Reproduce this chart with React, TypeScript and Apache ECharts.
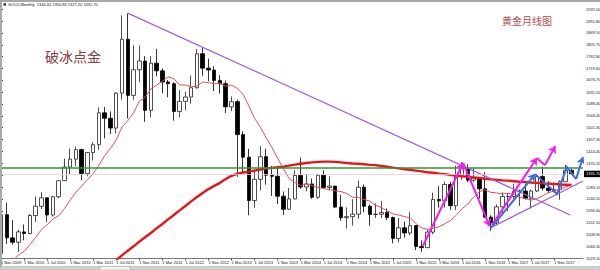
import React, { useEffect, useRef } from "react";
import * as echarts from "echarts";

const MONTHS = ["Jan", "Feb", "Mar", "Apr", "May", "Jun", "Jul", "Aug", "Sep", "Oct", "Nov", "Dec"];
// Monthly categories from Nov 2009, with two empty months of right margin
const categories: string[] = [];
for (let i = 0; i < 102; i++) {
  const m = (10 + i) % 12;
  const y = 2009 + Math.floor((10 + i) / 12);
  categories.push(`1 ${MONTHS[m]} ${y}`);
}

const opens = [1040, 1182, 1097, 1081, 1119, 1113, 1179, 1213, 1244, 1181, 1248, 1307, 1357, 1386, 1421, 1333, 1410, 1439, 1556, 1536,
  1500, 1628, 1826, 1620, 1714, 1746, 1565, 1738, 1710, 1669, 1663, 1561, 1598, 1614, 1648, 1773, 1720, 1713, 1675, 1663,
  1578, 1597, 1476, 1393, 1234, 1312, 1395, 1327, 1323, 1250, 1202, 1240, 1326, 1284, 1295, 1246, 1327, 1282, 1287, 1210,
  1171, 1175, 1184, 1283, 1213, 1183, 1184, 1190, 1172, 1095, 1134, 1115, 1142, 1065, 1061, 1118, 1238, 1233, 1293, 1215,
  1322, 1351, 1309, 1316, 1277, 1173, 1152, 1211, 1249, 1249, 1268, 1269, 1242, 1269, 1322, 1280, 1271, 1275, 1303, 1344.6];
const highs = [1195, 1227, 1162, 1127, 1146, 1185, 1249, 1265, 1245, 1251, 1307, 1388, 1425, 1432, 1424, 1412, 1448, 1576, 1577, 1561,
  1632, 1913, 1921, 1804, 1803, 1764, 1764, 1791, 1719, 1677, 1668, 1640, 1633, 1693, 1790, 1796, 1755, 1727, 1694, 1675,
  1616, 1605, 1488, 1424, 1348, 1434, 1424, 1361, 1361, 1267, 1280, 1345, 1392, 1331, 1315, 1332, 1345, 1323, 1288, 1255,
  1209, 1239, 1307, 1293, 1220, 1224, 1232, 1205, 1175, 1170, 1157, 1191, 1143, 1088, 1128, 1263, 1287, 1304, 1303, 1362,
  1375, 1367, 1353, 1318, 1338, 1180, 1220, 1264, 1262, 1296, 1274, 1296, 1274, 1326, 1358, 1306, 1300, 1308, 1366, 1350.8];
const lows = [1032, 1075, 1072, 1045, 1088, 1110, 1156, 1203, 1156, 1175, 1242, 1306, 1330, 1360, 1309, 1323, 1381, 1420, 1462, 1478,
  1480, 1605, 1535, 1604, 1668, 1523, 1540, 1690, 1628, 1613, 1527, 1540, 1565, 1590, 1645, 1692, 1672, 1636, 1627, 1555,
  1562, 1321, 1338, 1180, 1207, 1271, 1292, 1251, 1221, 1181, 1200, 1238, 1277, 1268, 1240, 1240, 1281, 1272, 1206, 1160,
  1131, 1142, 1167, 1191, 1142, 1170, 1169, 1162, 1077, 1080, 1098, 1107, 1052, 1046, 1060, 1110, 1208, 1208, 1200, 1199,
  1310, 1301, 1302, 1241, 1171, 1123, 1146, 1180, 1195, 1241, 1214, 1237, 1205, 1265, 1271, 1261, 1264, 1237, 1302, 1327.2];
const closes = [1182, 1097, 1081, 1119, 1113, 1179, 1213, 1244, 1181, 1248, 1307, 1357, 1386, 1421, 1333, 1410, 1439, 1556, 1536, 1500,
  1628, 1826, 1620, 1714, 1746, 1565, 1738, 1710, 1669, 1663, 1561, 1598, 1614, 1648, 1773, 1720, 1713, 1675, 1663, 1578,
  1597, 1476, 1393, 1234, 1312, 1395, 1327, 1323, 1250, 1202, 1240, 1326, 1284, 1295, 1246, 1327, 1282, 1287, 1210, 1171,
  1175, 1184, 1283, 1213, 1183, 1184, 1190, 1172, 1095, 1134, 1115, 1142, 1065, 1061, 1118, 1238, 1233, 1293, 1215, 1322,
  1351, 1309, 1316, 1277, 1173, 1152, 1211, 1249, 1249, 1268, 1269, 1242, 1269, 1322, 1280, 1271, 1275, 1303, 1345, 1331.7];

// thin red moving average
const maFast = [978, 994, 1010, 1034, 1047, 1072, 1098, 1127, 1145, 1166, 1178, 1204, 1235, 1265, 1287, 1310, 1333, 1364, 1399, 1425,
  1457, 1504, 1527, 1556, 1598, 1613, 1643, 1658, 1672, 1688, 1681, 1658, 1658, 1651, 1654, 1669, 1667, 1663, 1663, 1654,
  1658, 1646, 1624, 1582, 1536, 1504, 1465, 1430, 1389, 1351, 1315, 1300, 1289, 1295, 1289, 1282, 1278, 1274, 1270, 1267,
  1260, 1246, 1246, 1238, 1232, 1217, 1208, 1197, 1185, 1181, 1175, 1171, 1149, 1134, 1128, 1133, 1137, 1149, 1161, 1180,
  1204, 1221, 1246, 1267, 1273, 1264, 1262, 1258, 1261, 1256, 1247, 1241, 1236, 1240, 1251, 1263, 1269, 1275, 1284, 1291];
// thick red moving average
const maSlow = [null, null, null, null, null, null, null, null, null, null, null, null, null, null, null, null, null, null, null, null,
  1016, 1033, 1050, 1066, 1083, 1099, 1115, 1132, 1148, 1165, 1181, 1198, 1214, 1231, 1247, 1262, 1276, 1288, 1299, 1313,
  1325, 1332, 1337, 1340, 1344, 1348, 1352, 1354, 1356, 1358, 1362, 1366, 1369, 1372, 1374, 1376, 1377, 1377, 1376, 1374,
  1372, 1370, 1369, 1367, 1365, 1364, 1361, 1358, 1355, 1352, 1349, 1347, 1344, 1341, 1338, 1336, 1333, 1331, 1328, 1326,
  1323, 1321, 1319, 1317, 1314, 1312, 1310, 1308, 1307, 1305, 1303, 1302, 1300, 1299, 1297, 1296, 1295, 1293, 1292, 1291];

const priceTicks = [1023.1, 1066.3, 1108.9, 1152.1, 1196.0, 1240.2, 1283.1, 1326.7, 1370.2, 1414.4, 1457.3, 1501.3,
  1544.4, 1588.4, 1631.5, 1676.7, 1719.6, 1762.8, 1805.7, 1849.5, 1891.8, 1937.0];

const lastPrice = 1331.7;
const greenLevel = 1355;

// drawn annotations, in (month index, price)
const purpleTrend = [[22.0, 1922, 98.8, 1181], [84.9, 1133, 101, 1306]];
const magentaArrows = [[73.2, 1067, 80.2, 1372], [80.2, 1372, 84.8, 1140], [85.2, 1144, 93.0, 1390], [94.4, 1364, 96.2, 1434]];
const magentaLinks = [[93.0, 1390, 94.4, 1364]];
const blueArrows = [[85.0, 1133, 92.7, 1331], [99.8, 1313, 101, 1394]];
const bluePath = [[92.7, 1331], [96.5, 1258], [98.2, 1357], [99.8, 1313]];

const PURPLE = "#a65ad8";
const MAGENTA = "#f21cf0";
const BLUE = "#3b6de0";

export default function App() {
  const ref = useRef<HTMLDivElement>(null);
  useEffect(() => {
    if (!ref.current) return;
    const chart = echarts.init(ref.current, undefined, { renderer: "svg" });
    const seg = (s: number[], color: string) => ({ coords: [[s[0], s[1]], [s[2], s[3]]], lineStyle: { color } });
    const option: any = {
      animation: false,
      backgroundColor: "#ffffff",
      textStyle: { fontFamily: "Liberation Sans" },
      grid: { left: 1, right: 17, top: 5, bottom: 11.5, outerBoundsMode: "none" },
      xAxis: [
        {
          type: "category",
          data: categories,
          boundaryGap: false,
          axisLine: { lineStyle: { color: "#777", width: 1 } },
          axisTick: { interval: (i: number) => i % 4 === 0 && i <= 96, length: 2, lineStyle: { color: "#555" } },
          axisLabel: {
            interval: (i: number) => i % 4 === 0 && i <= 96,
            fontSize: 4, color: "#111", align: "left", margin: 2, fontFamily: "Liberation Sans",
          },
          splitLine: { show: false },
        },
        { type: "value", min: 0, max: 101, show: false },
      ],
      yAxis: {
        type: "value",
        position: "right",
        min: 1021.3,
        max: 1951.7,
        axisLine: { show: true, lineStyle: { color: "#444", width: 1 } },
        axisTick: { show: true, customValues: priceTicks, length: 2, lineStyle: { color: "#444" } },
        axisLabel: {
          customValues: priceTicks,
          formatter: (v: number) => v.toFixed(2),
          fontSize: 4, color: "#111", margin: 3, fontFamily: "Liberation Sans",
        },
        splitLine: { show: false },
      },
      graphic: [
        { type: "rect", shape: { x: 0, y: 0, width: 600, height: 2 }, style: { fill: "#a8a8a8" }, z: 10 },
        { type: "rect", shape: { x: 0, y: 0, width: 2, height: 267 }, style: { fill: "#a8a8a8" }, z: 10 },
        { type: "rect", shape: { x: 0, y: 266.5, width: 600, height: 3.5 }, style: { fill: "#d6d3ce", stroke: "#a0a0a0", lineWidth: 0.5 }, z: 10 },
        { type: "rect", shape: { x: 100, y: 266.5, width: 30, height: 3.5 }, style: { fill: "#f4f4f4", stroke: "#a0a0a0", lineWidth: 0.5 }, z: 10 },
        { type: "rect", shape: { x: 3.5, y: 3.2, width: 2.5, height: 2.5 }, style: { fill: "#333" }, z: 10 },
        {
          type: "text", x: 8, y: 2.6, z: 10,
          style: { text: "GOLD,Monthly  1344.60 1350.80 1327.20 1331.70", fontSize: 4, fill: "#111", fontFamily: "Liberation Sans", textVerticalAlign: "top" },
        },
        {
          type: "text", x: 45, y: 49, z: 10,
          style: { text: "破冰点金", fontSize: 14, fill: "#8b3d3d", fontFamily: "Noto Sans CJK SC", textVerticalAlign: "top" },
        },
        {
          type: "text", x: 502, y: 15.5, z: 10,
          style: { text: "黄金月线图", fontSize: 10, fill: "#b0504c", fontFamily: "Noto Sans CJK SC", textVerticalAlign: "top" },
        },
      ],
      series: [
        {
          type: "candlestick",
          data: opens.map((o, i) => [o, closes[i], lows[i], highs[i]]),
          barWidth: 4,
          clip: true,
          itemStyle: { color: "#ffffff", color0: "#000000", borderColor: "#222222", borderColor0: "#000000", borderWidth: 0.8 },
          markLine: {
            silent: true,
            symbol: ["none", "none"],
            animation: false,
            data: [
              { yAxis: greenLevel, lineStyle: { color: "#2b9a2b", width: 1.6, type: "solid" }, label: { show: false } },
              {
                yAxis: lastPrice,
                lineStyle: { color: "#f0c6e6", width: 0.8, type: "solid" },
                label: {
                  show: true, position: "end", distance: 1, formatter: "1331.70",
                  backgroundColor: "#000", color: "#fff", fontSize: 4, padding: [1.2, 2], fontFamily: "Liberation Sans",
                },
              },
            ],
          },
          z: 2,
        },
        {
          type: "line", data: maFast, symbol: "none", showSymbol: false, clip: true,
          lineStyle: { color: "#e2504e", width: 1 }, z: 3,
        },
        {
          type: "line", data: maSlow, symbol: "none", showSymbol: false, clip: true,
          lineStyle: { color: "#e8141a", width: 2.4 }, z: 3,
        },
        {
          type: "lines", coordinateSystem: "cartesian2d", xAxisIndex: 1, yAxisIndex: 0,
          symbol: ["none", "none"], silent: true, z: 4,
          lineStyle: { width: 1.2, opacity: 1, curveness: 0 },
          data: purpleTrend.map((s) => seg(s, PURPLE)),
        },
        {
          type: "lines", coordinateSystem: "cartesian2d", xAxisIndex: 1, yAxisIndex: 0,
          symbol: ["none", "none"], silent: true, z: 5,
          lineStyle: { width: 2, opacity: 1, curveness: 0 },
          data: magentaLinks.map((s) => seg(s, MAGENTA)),
        },
        {
          type: "lines", coordinateSystem: "cartesian2d", xAxisIndex: 1, yAxisIndex: 0,
          symbol: ["none", "arrow"], symbolSize: 7, silent: true, z: 5,
          lineStyle: { width: 2, opacity: 1, curveness: 0 },
          data: magentaArrows.map((s) => seg(s, MAGENTA)).concat(blueArrows.map((s) => seg(s, BLUE))),
        },
        {
          type: "lines", coordinateSystem: "cartesian2d", xAxisIndex: 1, yAxisIndex: 0, polyline: true,
          symbol: ["none", "none"], silent: true, z: 5,
          lineStyle: { width: 2, opacity: 1, curveness: 0 },
          data: [{ coords: bluePath, lineStyle: { color: BLUE } }],
        },
      ],
    };
    chart.setOption(option);
    return () => chart.dispose();
  }, []);
  return <div ref={ref} style={{ position: "absolute", left: 0, top: 0, width: 600, height: 270 }} />;
}
